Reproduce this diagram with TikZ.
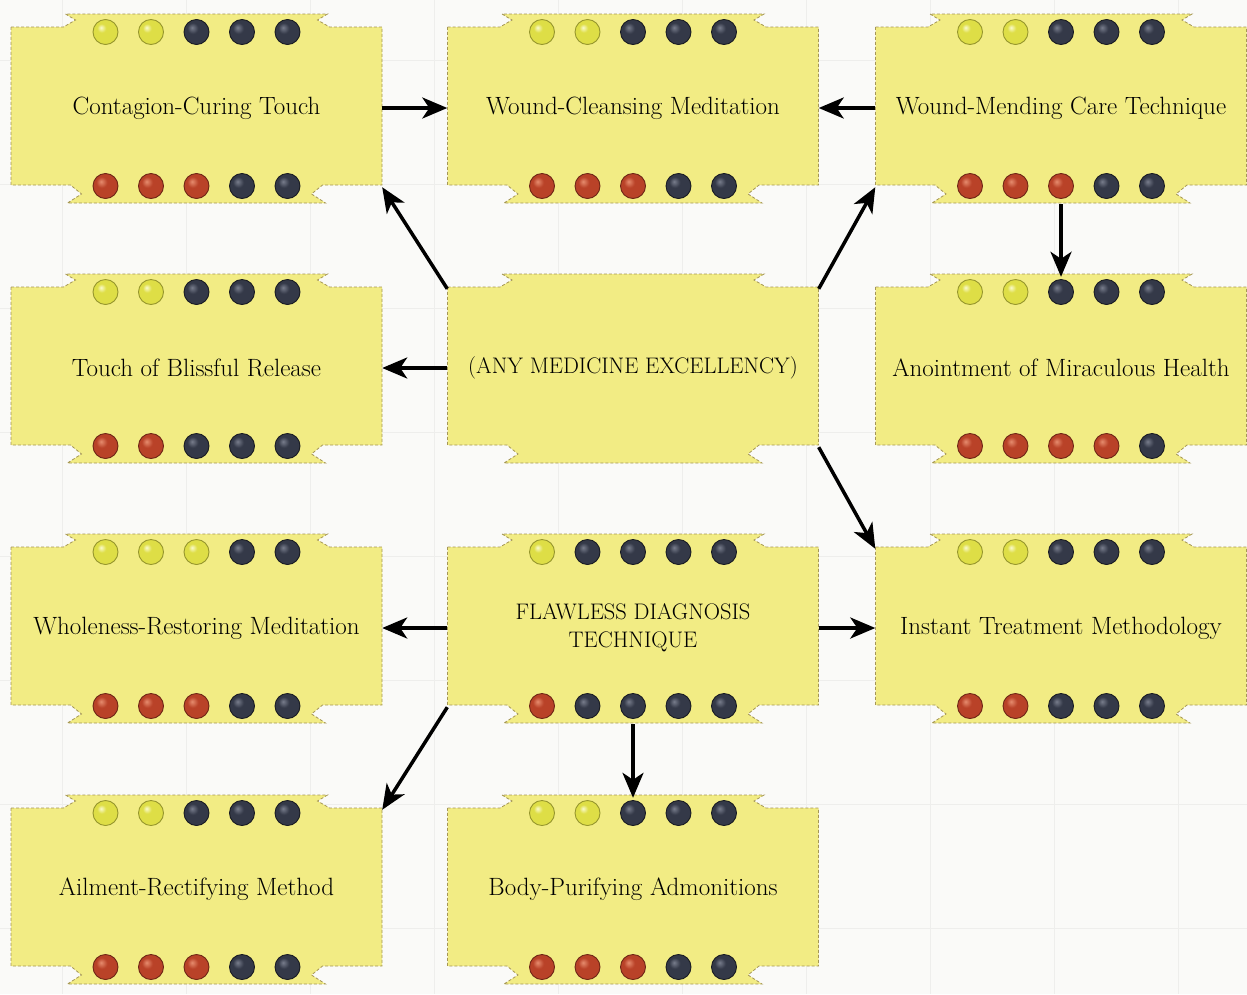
\documentclass[tikz,border=0pt]{standalone}
\usetikzlibrary{arrows.meta,calc}
\definecolor{boxyellow}{RGB}{242,236,132}
\definecolor{boxedge}{RGB}{165,150,85}
\definecolor{bgcol}{RGB}{250,250,248}
\definecolor{gridcol}{RGB}{238,238,236}
\definecolor{yhi}{RGB}{250,250,205}
\definecolor{ymid}{RGB}{222,222,70}
\definecolor{ydk}{RGB}{140,140,35}
\definecolor{dhi}{RGB}{120,125,140}
\definecolor{dmid}{RGB}{52,57,72}
\definecolor{ddk}{RGB}{22,24,30}
\definecolor{rhi}{RGB}{230,140,110}
\definecolor{rmid}{RGB}{185,66,40}
\definecolor{rdk}{RGB}{100,32,18}
\definecolor{dotYrim}{RGB}{150,150,45}
\definecolor{dotDrim}{RGB}{25,27,34}
\definecolor{dotRrim}{RGB}{110,38,22}
\pgfdeclareradialshading{dotYball}{\pgfqpoint{-9bp}{9bp}}{color(0bp)=(yhi); color(9bp)=(ymid); color(30bp)=(ymid); color(48bp)=(ydk); color(70bp)=(ydk)}
\pgfdeclareradialshading{dotDball}{\pgfqpoint{-9bp}{9bp}}{color(0bp)=(dhi); color(11bp)=(dmid); color(32bp)=(dmid); color(50bp)=(ddk); color(70bp)=(ddk)}
\pgfdeclareradialshading{dotRball}{\pgfqpoint{-9bp}{9bp}}{color(0bp)=(rhi); color(11bp)=(rmid); color(32bp)=(rmid); color(50bp)=(rdk); color(70bp)=(rdk)}

\tikzset{
 boxnode/.style={rectangle, minimum width=371pt, minimum height=158pt, inner sep=0pt, align=center, font=\fontsize{25}{28}\selectfont, text=black},
 capsnode/.style={boxnode, font=\fontsize{22.5}{28}\selectfont},
 boxshape/.style={fill=boxyellow, draw=boxedge, line width=0.8pt, densely dashed},
 link/.style={line width=3.5pt, -{Stealth[length=25pt,width=21pt,inset=7pt]}},
 dotball/.style={shade, shading=#1ball, draw=#1rim, line width=0.9pt},
}

\newcommand\boxoutline{%
  \draw[boxshape] (-185.5,-79) -- (-133,-79) -- (-121,-86) -- (-131,-92) -- (131,-92) -- (121,-86) -- (133,-79) -- (185.5,-79)
   -- (185.5,79) -- (126,79) -- (115,88) -- (129,97) -- (-129,97) -- (-115,88) -- (-126,79) -- (-185.5,79) -- cycle;}

\newcommand\medbox[7]{%
  \begin{scope}[shift={(#2,#3)}]
    \boxoutline
    \foreach \c [count=\i from -2] in {#4} {\path[dotball=\c] (\i*45.5,-74) circle[radius=12.5pt];}
    \foreach \c [count=\i from -2] in {#5} {\path[dotball=\c] (\i*45.5,80) circle[radius=12.5pt];}
  \end{scope}
  \node[#7] (#1) at (#2,#3+2) {#6};
}
\newcommand\plainbox[4]{%
  \begin{scope}[shift={(#2,#3)}]
    \boxoutline
  \end{scope}
  \node[capsnode] (#1) at (#2,#3+2) {#4};
}

\begin{document}
\begin{tikzpicture}[x=1pt,y=-1pt]
\useasboundingbox (0,0) rectangle (1247,994);
\fill[bgcol] (0,0) rectangle (1247,994);
\foreach \gx in {62,186,310,434,558,682,806,930,1054,1178} {\draw[gridcol,line width=0.6pt] (\gx,0) -- (\gx,994);}
\foreach \gy in {60,184,308,432,556,680,804,928} {\draw[gridcol,line width=0.6pt] (0,\gy) -- (1247,\gy);}

\medbox{cct}{196.5}{106}{dotY,dotY,dotD,dotD,dotD}{dotR,dotR,dotR,dotD,dotD}{Contagion-Curing Touch}{boxnode}
\medbox{wcm}{633}{106}{dotY,dotY,dotD,dotD,dotD}{dotR,dotR,dotR,dotD,dotD}{Wound-Cleansing Meditation}{boxnode}
\medbox{wmc}{1061}{106}{dotY,dotY,dotD,dotD,dotD}{dotR,dotR,dotR,dotD,dotD}{Wound-Mending Care Technique}{boxnode}
\medbox{tbr}{196.5}{366}{dotY,dotY,dotD,dotD,dotD}{dotR,dotR,dotD,dotD,dotD}{Touch of Blissful Release}{boxnode}
\plainbox{any}{633}{366}{(ANY MEDICINE EXCELLENCY)}
\medbox{amh}{1061}{366}{dotY,dotY,dotD,dotD,dotD}{dotR,dotR,dotR,dotR,dotD}{Anointment of Miraculous Health}{boxnode}
\medbox{wrm}{196.5}{626}{dotY,dotY,dotY,dotD,dotD}{dotR,dotR,dotR,dotD,dotD}{Wholeness-Restoring Meditation}{boxnode}
\medbox{fdt}{633}{626}{dotY,dotD,dotD,dotD,dotD}{dotR,dotD,dotD,dotD,dotD}{FLAWLESS DIAGNOSIS\\TECHNIQUE}{capsnode}
\medbox{itm}{1061}{626}{dotY,dotY,dotD,dotD,dotD}{dotR,dotR,dotD,dotD,dotD}{Instant Treatment Methodology}{boxnode}
\medbox{arm}{196.5}{887}{dotY,dotY,dotD,dotD,dotD}{dotR,dotR,dotR,dotD,dotD}{Ailment-Rectifying Method}{boxnode}
\medbox{bpa}{633}{887}{dotY,dotY,dotD,dotD,dotD}{dotR,dotR,dotR,dotD,dotD}{Body-Purifying Admonitions}{boxnode}

\draw[link] (cct.east) -- (wcm.west);
\draw[link] (wmc.west) -- (wcm.east);
\draw[link] (any.north west) -- (cct.south east);
\draw[link] (any.north east) -- (wmc.south west);
\draw[link] (any.west) -- (tbr.east);
\draw[link] ([yshift=-17pt]wmc.south) -- ([yshift=12pt]amh.north);
\draw[link] (any.south east) -- (itm.north west);
\draw[link] (fdt.west) -- (wrm.east);
\draw[link] (fdt.east) -- (itm.west);
\draw[link] (fdt.south west) -- (arm.north east);
\draw[link] ([yshift=-17pt]fdt.south) -- ([yshift=12pt]bpa.north);
\end{tikzpicture}
\end{document}
